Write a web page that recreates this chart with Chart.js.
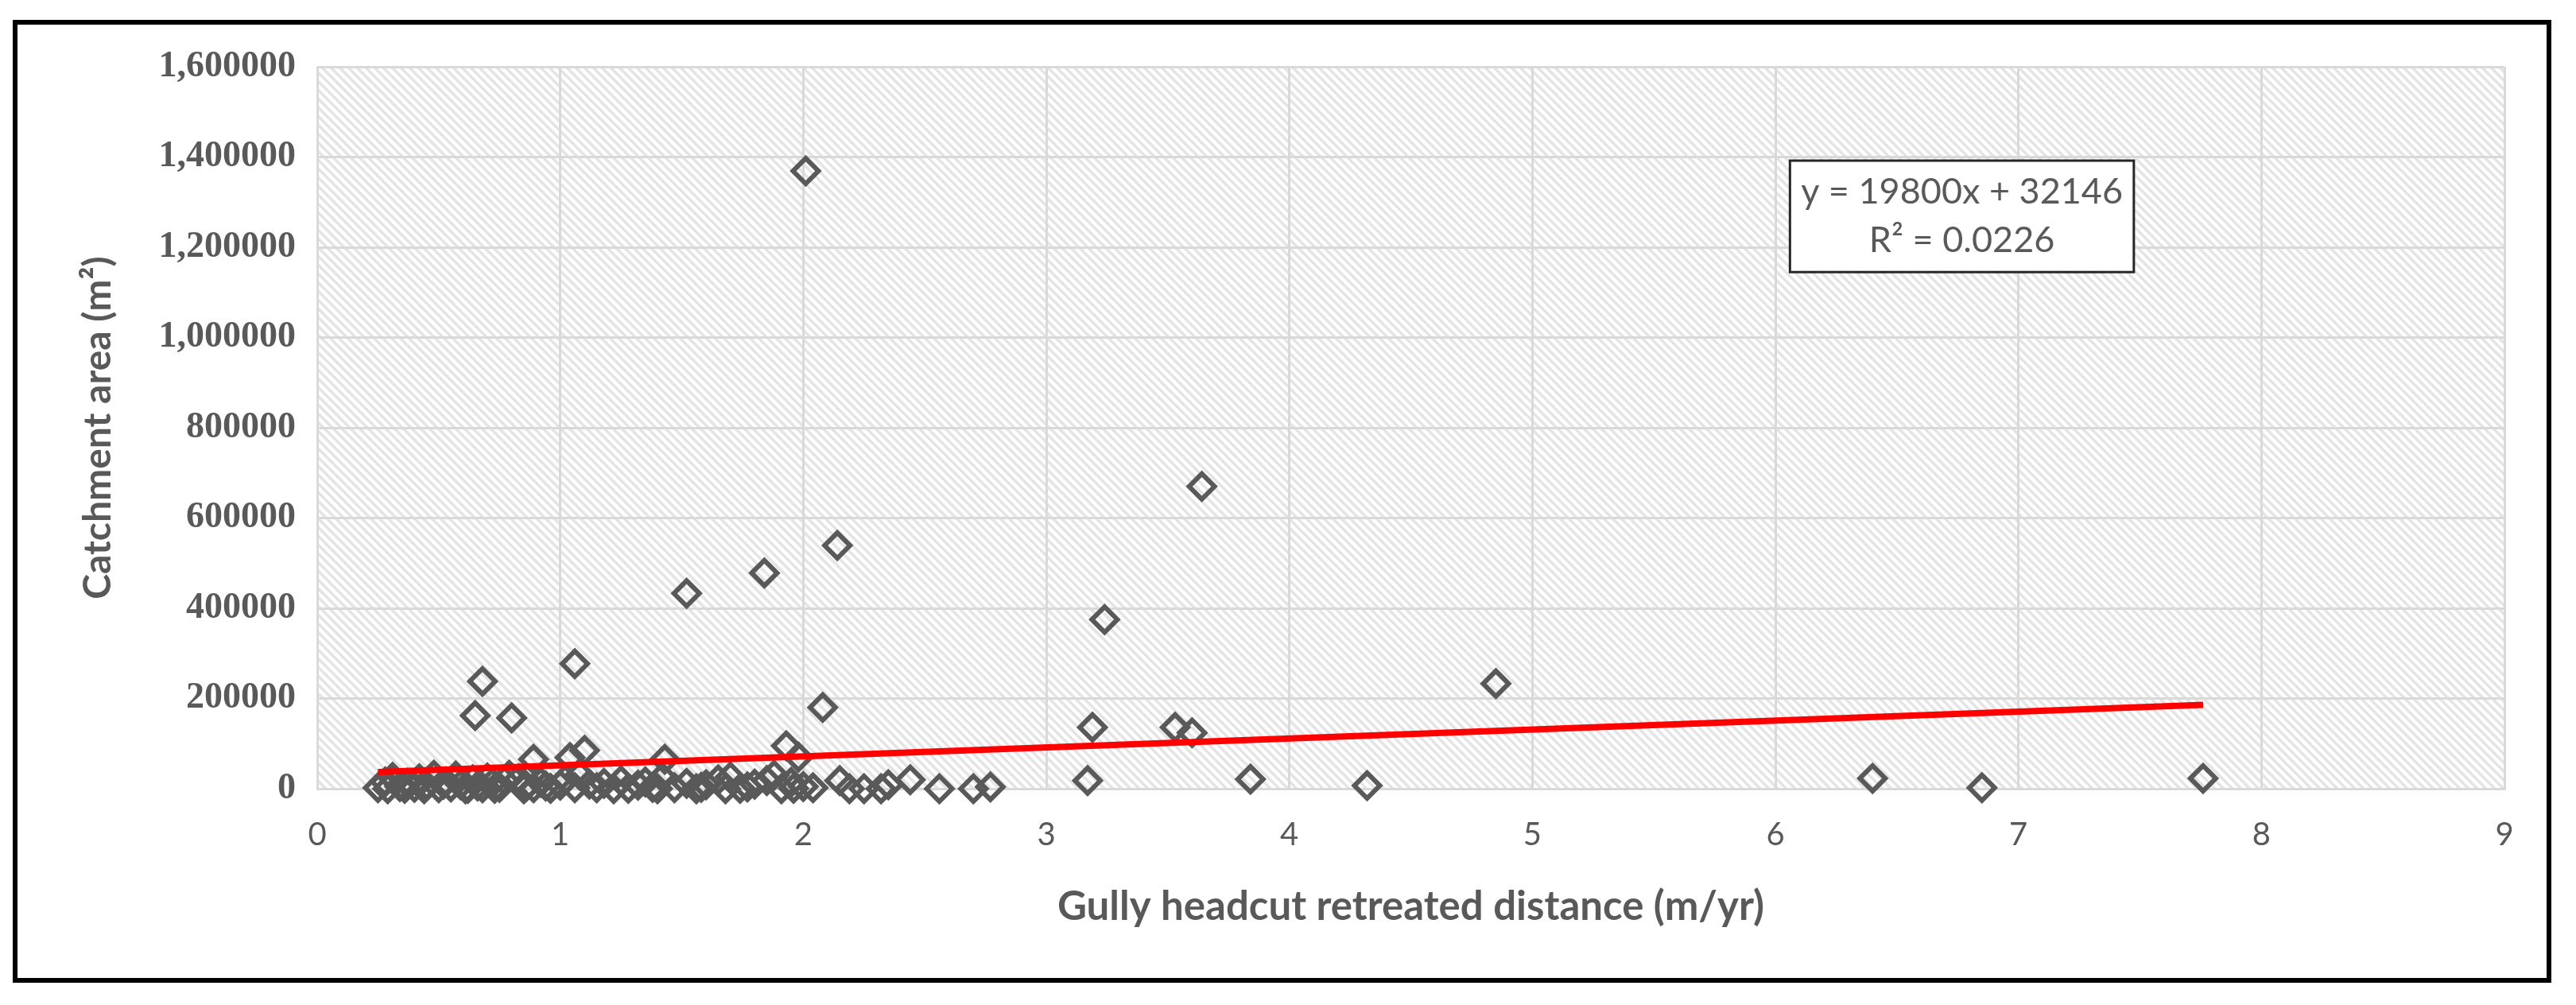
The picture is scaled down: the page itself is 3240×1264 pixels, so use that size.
<!DOCTYPE html>
<html>
<head>
<meta charset="utf-8">
<script src="https://cdn.jsdelivr.net/npm/chart.js@4.4.1/dist/chart.umd.min.js"></script>
<style>
  html, body { margin: 0; padding: 0; background: #fff; }
  #wrap { position: relative; width: 3240px; height: 1264px; }
  #frame { position: absolute; left: 16px; top: 25px; width: 3181px; height: 1199px; border: 6px solid #000; pointer-events: none; }
  canvas { position: absolute; left: 0; top: 0; }
</style>
</head>
<body>
<div id="wrap">
  <canvas id="chart" width="3240" height="1264"></canvas>
  <div id="frame"></div>
</div>
<script>
// Gully headcut retreat rate (m/yr) vs catchment area (m2)
const retreatRate = [
  0.25, 0.28, 0.31, 0.34, 0.37, 0.40, 0.42, 0.45, 0.48, 0.50,
  0.53, 0.55, 0.57, 0.59, 0.62, 0.64, 0.65, 0.66, 0.68, 0.68,
  0.70, 0.72, 0.75, 0.77, 0.79, 0.80, 0.83, 0.86, 0.89, 0.89,
  0.92, 0.96, 1.00, 1.02, 1.04, 1.06, 1.06, 1.08, 1.10, 1.12,
  1.15, 1.22, 1.25, 1.32, 1.35, 1.38, 1.42, 1.43, 1.47, 1.52,
  1.52, 1.56, 1.60, 1.65, 1.70, 1.74, 1.80, 1.84, 1.85, 1.88,
  1.91, 1.93, 1.95, 1.98, 2.00, 2.01, 2.04, 2.08, 2.14, 2.15,
  2.19, 2.25, 2.32, 2.35, 2.44, 2.56, 2.70, 2.77, 3.17, 3.19,
  3.24, 3.53, 3.60, 3.64, 3.84, 4.32, 4.85, 6.40, 6.85, 7.76,
  0.29, 0.36, 0.44, 0.52, 0.61, 0.73, 0.85, 0.94, 1.18, 1.28,
  1.40, 1.58, 1.68, 1.77, 1.96
];
const catchmentArea = [
  2000, 15000, 25000, 5000, 12000, 3000, 22000, 8000, 30000, 2000,
  15000, 4000, 28000, 9000, 1000, 20000, 162000, 6000, 238000, 2000,
  24000, 12000, 3000, 18000, 30000, 157000, 22000, 5000, 2000, 65000,
  14000, 1000, 8000, 20000, 69000, 277000, 2000, 30000, 85000, 10000,
  2000, 0, 18000, 8000, 15000, 3000, 25000, 65000, 2000, 433000,
  12000, 0, 9000, 20000, 26000, 1000, 10000, 478000, 18000, 30000,
  0, 95000, 14000, 70000, 5000, 1369000, 2000, 180000, 539000, 18000,
  0, 0, 0, 9000, 20000, 0, 0, 4000, 18000, 136000,
  375000, 136000, 124000, 670000, 21000, 7000, 233000, 23000, 2000, 23000,
  0, 1000, 0, 10000, 0, 1000, 0, 6000, 12000, 1000,
  0, 3000, 0, 4000, 1000
];

// linear trendline ends (y = 19800x + 32146)
const trendX = [0.25, 7.76];
const trendY = [37100, 185800];

const xTickLabels = ['0', '1', '2', '3', '4', '5', '6', '7', '8', '9'];
const yTickLabels = ['0', '200000', '400000', '600000', '800000', '1,000000', '1,200000', '1,400000', '1,600000'];
const equationLines = ['y = 19800x + 32146', 'R\u00b2 = 0.0226'];

const grey = '#595959';

const points = retreatRate.map((x, i) => ({ x: x, y: catchmentArea[i] }));
const trendPoints = trendX.map((x, i) => ({ x: x, y: trendY[i] }));

// diagonal hatch fill behind the plot area
const hatchPlugin = {
  id: 'hatch',
  beforeDraw(chart) {
    const { ctx, chartArea } = chart;
    const { left, top, right, bottom } = chartArea;
    const h = bottom - top;
    ctx.save();
    ctx.fillStyle = '#ffffff';
    ctx.fillRect(left, top, right - left, h);
    ctx.beginPath();
    ctx.rect(left, top, right - left, h);
    ctx.clip();
    ctx.beginPath();
    ctx.strokeStyle = '#e4e4e4';
    ctx.lineWidth = 3.5;
    for (let x = left - h; x < right + 20; x += 11) {
      ctx.moveTo(x, top);
      ctx.lineTo(x + h, bottom);
    }
    ctx.stroke();
    ctx.restore();
  }
};

// trendline equation box
const equationPlugin = {
  id: 'equation',
  afterDraw(chart) {
    const { ctx, scales } = chart;
    const x0 = scales.x.getPixelForValue(6.06);
    const x1 = scales.x.getPixelForValue(7.475);
    const y0 = scales.y.getPixelForValue(1392000);
    const y1 = scales.y.getPixelForValue(1145000);
    ctx.save();
    ctx.fillStyle = '#ffffff';
    ctx.fillRect(x0, y0, x1 - x0, y1 - y0);
    ctx.strokeStyle = '#262626';
    ctx.lineWidth = 3;
    ctx.strokeRect(x0, y0, x1 - x0, y1 - y0);
    ctx.fillStyle = grey;
    ctx.font = '45px Lato';
    ctx.textAlign = 'center';
    ctx.textBaseline = 'middle';
    const cx = (x0 + x1) / 2;
    const lineGap = (y1 - y0) / 2.3;
    ctx.fillText(equationLines[0], cx, (y0 + y1) / 2 - lineGap / 2);
    ctx.fillText(equationLines[1], cx, (y0 + y1) / 2 + lineGap / 2);
    ctx.restore();
  }
};

const ctx = document.getElementById('chart').getContext('2d');
new Chart(ctx, {
  type: 'scatter',
  data: {
    datasets: [
      {
        type: 'line',
        data: trendPoints,
        borderColor: '#ff0000',
        borderWidth: 8,
        pointRadius: 0,
        fill: false,
        order: 0
      },
      {
        data: points,
        pointStyle: 'rectRot',
        pointRadius: 16,
        borderWidth: 6,
        borderColor: grey,
        backgroundColor: 'rgba(0,0,0,0)',
        clip: false,
        order: 1
      }
    ]
  },
  options: {
    responsive: false,
    animation: false,
    events: [],
    layout: { padding: { left: 95, top: 84, right: 90, bottom: 0 } },
    plugins: {
      legend: { display: false },
      tooltip: { enabled: false }
    },
    scales: {
      x: {
        type: 'linear',
        min: 0,
        max: 9,
        afterFit(scale) { scale.height = 272; },
        ticks: {
          stepSize: 1,
          padding: 34,
          color: grey,
          font: { family: 'Lato', size: 40 },
          callback: (v, i) => xTickLabels[i]
        },
        grid: { color: '#d9d9d9', lineWidth: 3, drawTicks: false },
        border: { color: '#d9d9d9', width: 3 },
        title: {
          display: true,
          text: 'Gully headcut retreated distance (m/yr)',
          color: grey,
          font: { family: 'Lato', size: 51, weight: 'bold' },
          padding: { top: 0, bottom: 93 }
        }
      },
      y: {
        type: 'linear',
        min: 0,
        max: 1600000,
        afterFit(scale) { scale.width = 304; },
        ticks: {
          stepSize: 200000,
          padding: 27,
          color: grey,
          font: { family: 'Liberation Serif', size: 46, weight: 'bold' },
          callback: (v, i) => yTickLabels[i]
        },
        grid: { color: '#d9d9d9', lineWidth: 3, drawTicks: false },
        border: { color: '#d9d9d9', width: 3 },
        title: {
          display: true,
          text: 'Catchment area (m\u00b2)',
          color: grey,
          font: { family: 'Lato', size: 48, weight: 'bold' },
          padding: { top: 0, bottom: 0 }
        }
      }
    }
  },
  plugins: [hatchPlugin, equationPlugin]
});
</script>
</body>
</html>
